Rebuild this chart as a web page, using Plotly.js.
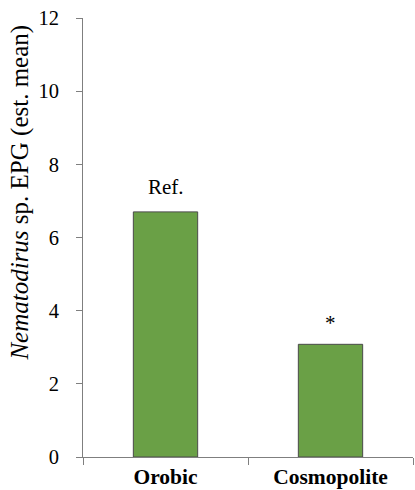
<!DOCTYPE html>
<html>
<head>
<meta charset="utf-8">
<script src="https://cdn.plot.ly/plotly-3.0.1.min.js"></script>
<style>html,body{margin:0;padding:0;background:#fff;}#chart{width:415px;height:490px;}</style>
</head>
<body>
<div id="chart"></div>
<script>
var categories = ["Orobic", "Cosmopolite"];
var values = [6.7, 3.08];
var marks = ["Ref.", "*"];
var yTicks = [0, 2, 4, 6, 8, 10, 12];

var serif = "Times New Roman";

function draw(){
  var trace = {
    type: "bar",
    x: categories,
    y: values,
    width: 0.39,
    marker: {color: "#6aa046", line: {color: "#4a4a4a", width: 1}},
    hoverinfo: "none"
  };

  var annotations = categories.map(function(c, i){
    return {
      x: c, y: values[i], xref: "x", yref: "y",
      text: marks[i], showarrow: false,
      yanchor: "middle", yshift: marks[i] === "*" ? 21 : 25,
      font: {family: serif, size: 21, color: "#000"}
    };
  });
  annotations.push({
    xref: "paper", yref: "paper", x: -0.19, y: 0.603,
    xanchor: "center", yanchor: "middle", textangle: -90, showarrow: false,
    text: "<i>Nematodirus</i> sp. EPG (est. mean)",
    font: {family: serif, size: 25, color: "#000"}
  });

  var layout = {
    width: 415, height: 490,
    margin: {l: 83, r: 2, t: 18, b: 33},
    paper_bgcolor: "#fff", plot_bgcolor: "#fff",
    showlegend: false,
    font: {family: serif},
    xaxis: {
      type: "category", range: [-0.5, 1.5],
      showline: true, linecolor: "#7f7f7f", linewidth: 1,
      ticks: "outside", tickson: "boundaries", ticklen: 7, tickcolor: "#7f7f7f",
      showgrid: false, zeroline: false,
      tickfont: {family: serif, size: 21.5, color: "#000", weight: "bold"}
    },
    yaxis: {
      range: [0, 12], tickvals: yTicks, ticktext: yTicks.map(String),
      showline: true, linecolor: "#7f7f7f", linewidth: 1,
      ticks: "outside", ticklen: 6, tickcolor: "#7f7f7f",
      showgrid: false, zeroline: false,
      ticklabelstandoff: 13,
      tickfont: {family: serif, size: 20.5, color: "#000"}
    },
    annotations: annotations
  };

  Plotly.newPlot("chart", [trace], layout, {displayModeBar: false, staticPlot: true});
}

var drawn = false;
function once(){ if (!drawn) { drawn = true; draw(); } }
if (document.fonts && document.fonts.load) {
  Promise.all([
    document.fonts.load('20px "Times New Roman"'),
    document.fonts.load('bold 20px "Times New Roman"'),
    document.fonts.load('italic 25px "Times New Roman"')
  ]).then(once, once);
  setTimeout(once, 500);
} else { once(); }
</script>
</body>
</html>
